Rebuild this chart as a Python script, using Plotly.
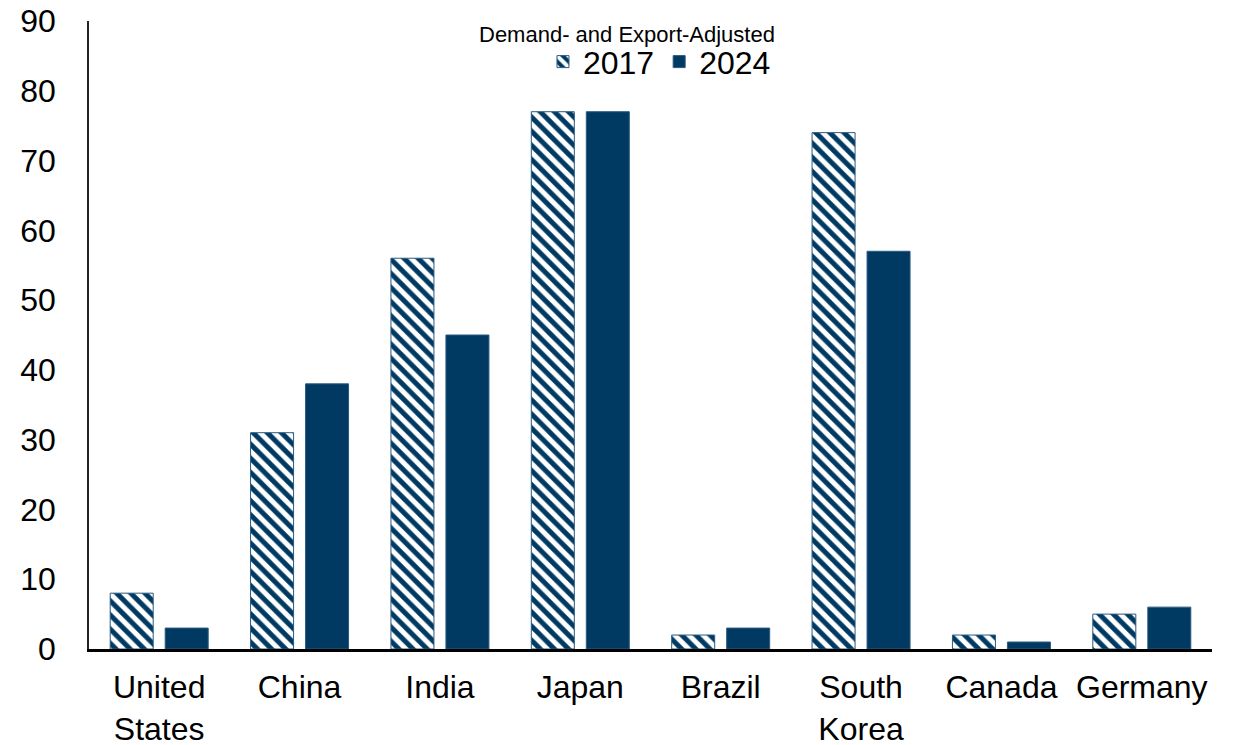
import plotly.graph_objects as go

categories = ["United<br>States", "China", "India", "Japan", "Brazil", "South<br>Korea", "Canada", "Germany"]
values_2017 = [8, 31, 56, 77, 2, 74, 2, 5]
values_2024 = [3, 38, 45, 77, 3, 57, 1, 6]
y_ticks = [0, 10, 20, 30, 40, 50, 60, 70, 80, 90]

navy = "#003A63"
font_family = "Liberation Sans, Arial, sans-serif"

fig = go.Figure()
fig.add_trace(go.Bar(
    x=categories, y=values_2017, name="2017",
    marker=dict(color=navy, line=dict(color="#2a5a80", width=1),
                pattern=dict(shape="\\", bgcolor=navy, fgcolor="#ffffff", fgopacity=1,
                             size=10, solidity=0.5, fillmode="replace")),
))
fig.add_trace(go.Bar(
    x=categories, y=values_2024, name="2024",
    marker=dict(color=navy, line=dict(color="#2a5a80", width=1)),
))

fig.update_layout(
    width=1237, height=745,
    margin=dict(l=81, r=33, t=13, b=104),
    paper_bgcolor="white", plot_bgcolor="white",
    font=dict(family=font_family, size=32, color="black"),
    barmode="group", bargap=0.2165, bargroupgap=0.218,
    showlegend=True,
    legend=dict(orientation="h", x=0.508, xanchor="center", y=0.935, yanchor="middle",
                font=dict(size=32), itemwidth=30, tracegroupgap=0, bgcolor="rgba(0,0,0,0)"),
    annotations=[dict(text="Demand- and Export-Adjusted", xref="paper", yref="paper",
                      x=0.4795, y=1.0, xanchor="center", yanchor="bottom", yshift=-28,
                      showarrow=False, font=dict(size=22))],
)
fig.update_xaxes(showline=True, linecolor="black", linewidth=2.5, ticks="", showgrid=False,
                 tickfont=dict(size=32), ticklabelstandoff=8, automargin=False)
fig.update_yaxes(range=[0, 90], tickvals=y_ticks, showgrid=False, zeroline=False,
                 showline=True, linecolor="#222222", linewidth=1.5, ticks="",
                 ticklabelstandoff=25, ticklabeloverflow="allow",
                 tickfont=dict(size=32), automargin=False)

fig.write_html("out.html")
